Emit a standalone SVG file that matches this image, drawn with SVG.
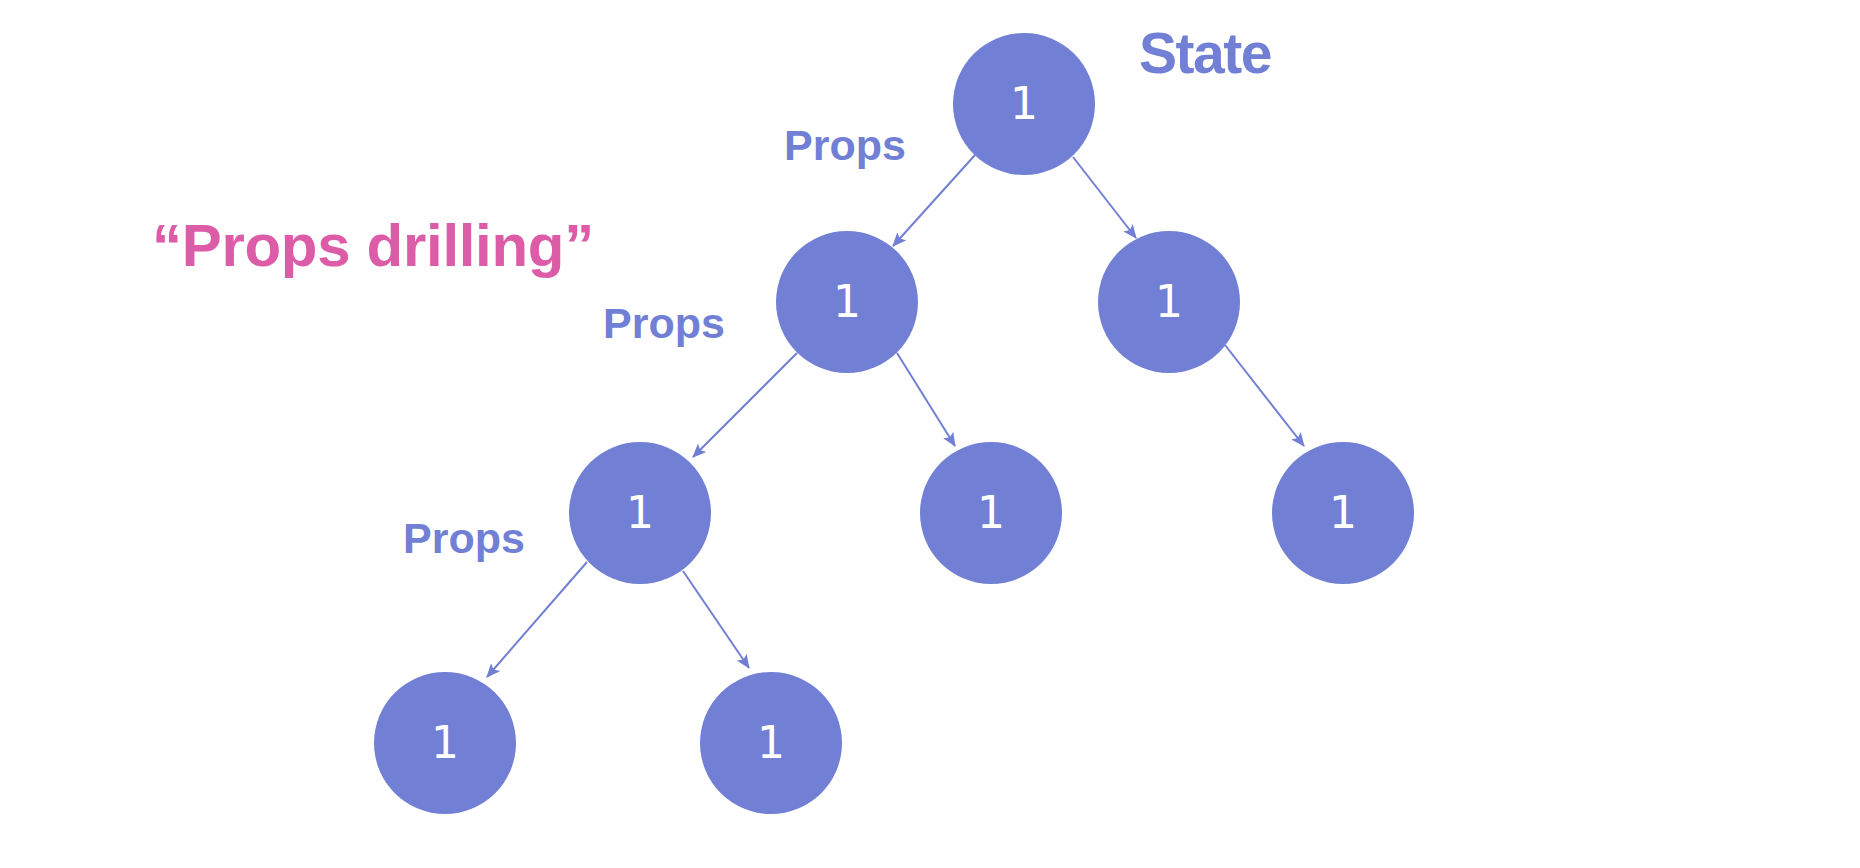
<svg xmlns="http://www.w3.org/2000/svg" width="1860" height="868" viewBox="0 0 1860 868">
<style>
.node circle{fill:#717fd4}
.node text{fill:#ffffff;font-family:"DejaVu Sans",sans-serif;font-size:44px;text-anchor:middle}
.lbl{fill:#717fd4;font-family:"Liberation Sans",Arial,sans-serif;font-weight:bold;font-size:43px}
.title{fill:#dd5ca8;font-family:"Liberation Sans",Arial,sans-serif;font-weight:bold;font-size:60px;letter-spacing:-0.3px}
.state{fill:#717fd4;font-family:"Liberation Sans",Arial,sans-serif;font-weight:bold;font-size:57px;letter-spacing:-1.5px}
.edge{stroke:#717fd4;stroke-width:2;fill:none;marker-end:url(#arr)}
</style>
<defs>
<marker id="arr" markerUnits="userSpaceOnUse" markerWidth="14" markerHeight="12" viewBox="0 0 14 12" refX="13" refY="6" orient="auto">
<path d="M0,0 L14,6 L0,12 L3,6 z" fill="#717fd4"/>
</marker>
</defs>
<rect width="1860" height="868" fill="#ffffff"/>
<g id="connectors">
<line class="edge" x1="975" y1="155" x2="893" y2="246"/>
<line class="edge" x1="1073" y1="157" x2="1136" y2="238"/>
<line class="edge" x1="797" y1="353" x2="693" y2="457"/>
<line class="edge" x1="897" y1="353" x2="955" y2="446"/>
<line class="edge" x1="1225" y1="345" x2="1304" y2="446"/>
<line class="edge" x1="587" y1="562" x2="487" y2="677"/>
<line class="edge" x1="683" y1="571" x2="749" y2="668"/>
</g>
<g id="node-root" class="node"><circle cx="1024" cy="104" r="71"/><text x="1024" y="119">1</text></g>
<g id="node-l2a" class="node"><circle cx="847" cy="302" r="71"/><text x="847" y="317">1</text></g>
<g id="node-l2b" class="node"><circle cx="1169" cy="302" r="71"/><text x="1169" y="317">1</text></g>
<g id="node-l3a" class="node"><circle cx="640" cy="513" r="71"/><text x="640" y="528">1</text></g>
<g id="node-l3b" class="node"><circle cx="991" cy="513" r="71"/><text x="991" y="528">1</text></g>
<g id="node-l3c" class="node"><circle cx="1343" cy="513" r="71"/><text x="1343" y="528">1</text></g>
<g id="node-l4a" class="node"><circle cx="445" cy="743" r="71"/><text x="445" y="758">1</text></g>
<g id="node-l4b" class="node"><circle cx="771" cy="743" r="71"/><text x="771" y="758">1</text></g>
<g id="labels">
<text class="state" x="1139" y="73">State</text>
<text class="title" x="152" y="266">“Props drilling”</text>
<text class="lbl" x="784" y="160">Props</text>
<text class="lbl" x="603" y="338">Props</text>
<text class="lbl" x="403" y="553">Props</text>
</g>
</svg>
